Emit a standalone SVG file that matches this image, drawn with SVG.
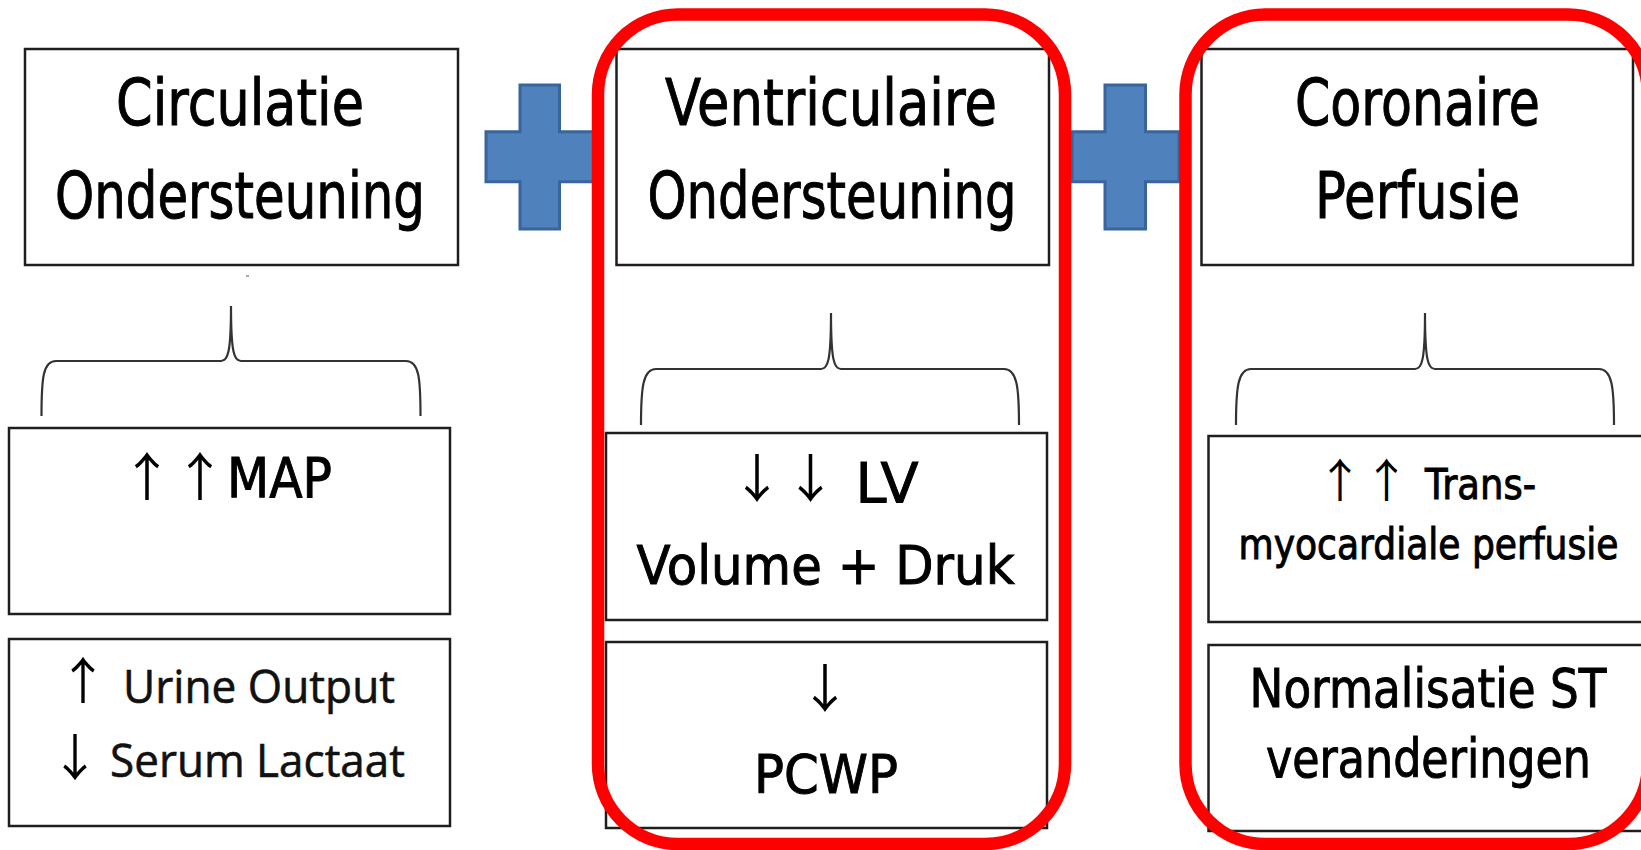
<svg xmlns="http://www.w3.org/2000/svg" width="1641" height="850" viewBox="0 0 1641 850">
<style>
.box{fill:#fff;stroke:#1e1e1e;stroke-width:2.5}
.t{font-family:"DejaVu Sans","Liberation Sans",sans-serif;fill:#000;stroke:#000;stroke-width:1;text-anchor:middle}
.s{font-family:"DejaVu Sans","Liberation Sans",sans-serif;fill:#000;stroke:#000;stroke-width:1;text-anchor:start}
.c{font-family:"Open Sans","DejaVu Sans",sans-serif;fill:#111;stroke:#111;stroke-width:0.6;text-anchor:start}
.a{font-family:"Noto Sans CJK JP","Noto Sans CJK SC","DejaVu Sans",sans-serif;fill:#000;text-anchor:middle}
.brace{fill:none;stroke:#333;stroke-width:2.2}
.plus{fill:#4F81BD;stroke:#3A659C;stroke-width:3}
.hl{fill:none;stroke:#FF0000;stroke-width:12.5}
</style>
<rect width="1641" height="850" fill="#fff"/>
<g id="plus1"><path class="plus" d="M520 85 H559.5 V131.7 H594 V181.7 H559.5 V229 H520 V181.7 H486 V131.7 H520 Z"/></g>
<g id="plus2"><path class="plus" d="M1105 85 H1145.5 V131.7 H1179 V181.7 H1145.5 V229 H1105 V181.7 H1072 V131.7 H1105 Z"/></g>
<g id="circulatie">
<rect class="box" x="25" y="49" width="433" height="216"/>
<text class="t" x="240" y="125" font-size="64" textLength="248" lengthAdjust="spacingAndGlyphs">Circulatie</text>
<text class="t" x="240" y="218" font-size="64" textLength="370" lengthAdjust="spacingAndGlyphs">Ondersteuning</text>
</g>
<rect x="246" y="275" width="3" height="2" fill="#aaa"/>
<g id="ventriculaire">
<rect class="box" x="616.5" y="49" width="432.5" height="216"/>
<text class="t" x="831" y="125" font-size="64" textLength="332" lengthAdjust="spacingAndGlyphs">Ventriculaire</text>
<text class="t" x="832" y="218" font-size="64" textLength="369" lengthAdjust="spacingAndGlyphs">Ondersteuning</text>
</g>
<g id="coronaire">
<rect class="box" x="1201.5" y="49" width="431.5" height="216"/>
<text class="t" x="1417.5" y="125" font-size="64" textLength="245" lengthAdjust="spacingAndGlyphs">Coronaire</text>
<text class="t" x="1417.5" y="218" font-size="64" textLength="205" lengthAdjust="spacingAndGlyphs">Perfusie</text>
</g>
<g id="map">
<rect class="box" x="9" y="428" width="441" height="186"/>
<text class="a" x="147" y="496" font-size="52">↑</text>
<text class="a" x="200" y="496" font-size="52">↑</text>
<text class="s" x="227" y="497" font-size="56" textLength="105" lengthAdjust="spacingAndGlyphs">MAP</text>
</g>
<g id="urine">
<rect class="box" x="9" y="639" width="441" height="187"/>
<text class="a" x="83" y="699" font-size="50">↑</text>
<text class="c" x="123" y="703" font-size="46" textLength="272" lengthAdjust="spacingAndGlyphs">Urine Output</text>
<text class="a" x="75" y="776" font-size="50">↓</text>
<text class="c" x="110" y="777" font-size="46" textLength="295" lengthAdjust="spacingAndGlyphs">Serum Lactaat</text>
</g>
<g id="lv">
<rect class="box" x="606" y="433" width="441" height="187"/>
<text class="a" x="757" y="498" font-size="52">↓</text>
<text class="a" x="810.5" y="498" font-size="52">↓</text>
<text class="s" x="855.5" y="501.5" font-size="56" textLength="63" lengthAdjust="spacingAndGlyphs">LV</text>
<text class="t" x="825.5" y="584" font-size="54" textLength="378" lengthAdjust="spacingAndGlyphs">Volume + Druk</text>
</g>
<g id="pcwp">
<rect class="box" x="606" y="642" width="441" height="186"/>
<text class="a" x="825" y="708" font-size="52">↓</text>
<text class="t" x="826" y="792.5" font-size="54" textLength="144" lengthAdjust="spacingAndGlyphs">PCWP</text>
</g>
<g id="transmyo">
<rect class="box" x="1208.5" y="436" width="434" height="186"/>
<text class="a" x="1340" y="497" font-size="46">↑</text>
<text class="a" x="1386.5" y="497" font-size="46">↑</text>
<text class="s" x="1425" y="499" font-size="43" textLength="111" lengthAdjust="spacingAndGlyphs">Trans-</text>
<text class="t" x="1428.5" y="559" font-size="42" textLength="380" lengthAdjust="spacingAndGlyphs">myocardiale perfusie</text>
</g>
<g id="normalisatie">
<rect class="box" x="1208.5" y="645" width="434" height="186"/>
<text class="t" x="1428" y="707" font-size="53" textLength="357" lengthAdjust="spacingAndGlyphs">Normalisatie ST</text>
<text class="t" x="1428.5" y="777" font-size="53" textLength="325" lengthAdjust="spacingAndGlyphs">veranderingen</text>
</g>
<g id="connectors">
<path class="brace" d="M41.5 416 C41.5 378 43 361 56 361 L221 361 C228 361 231 352 231 306 C231 352 234 361 241 361 L406 361 C419 361 420.5 378 420.5 416"/>
<path class="brace" d="M641 425 C641 387 643 369 656 369 L821 369 C828 369 831 360 831 313 C831 360 834 369 841 369 L1004 369 C1017 369 1019 387 1019 425"/>
<path class="brace" d="M1236 425 C1236 387 1238 369 1251 369 L1415 369 C1422 369 1425 360 1425 313 C1425 360 1428 369 1435 369 L1599 369 C1612 369 1614 387 1614 425"/>
</g>
<g id="highlights">
<rect class="hl" x="598" y="14.5" width="467" height="829.5" rx="80" ry="80"/>
<rect class="hl" x="1185.5" y="14.5" width="462.5" height="829.5" rx="80" ry="80"/>
</g>
</svg>
